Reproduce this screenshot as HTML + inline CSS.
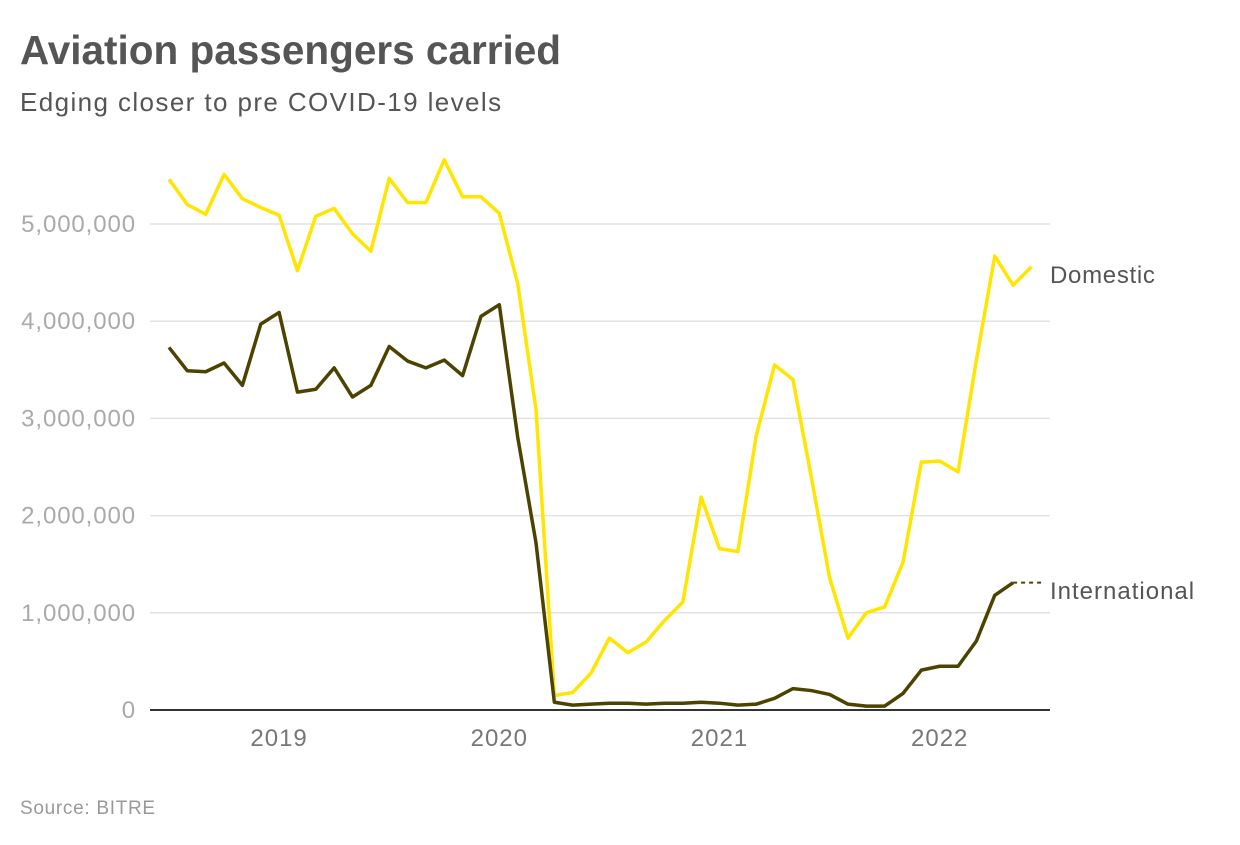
<!DOCTYPE html>
<html><head><meta charset="utf-8"><style>
body{margin:0;background:#fff;font-family:"Liberation Sans",sans-serif;}
svg text{font-family:"Liberation Sans",sans-serif;}
</style></head><body>
<svg width="1240" height="840">
<text x="20" y="64" font-size="40.5" font-weight="bold" fill="#555">Aviation passengers carried</text>
<text x="20" y="111" font-size="26" letter-spacing="1.4" fill="#555">Edging closer to pre COVID-19 levels</text>
<g id="grid"></g><g id="lines"></g>
<text x="20" y="814" font-size="19" letter-spacing="0.7" fill="#999">Source: BITRE</text>
</svg>
<script>
const yTicks=[0,1000000,2000000,3000000,4000000,5000000];
const yTickLabels=["0","1,000,000","2,000,000","3,000,000","4,000,000","5,000,000"];
const xTickLabels=["2019","2020","2021","2022"];
const domestic=[5.46,5.20,5.10,5.51,5.26,5.17,5.09,4.52,5.08,5.16,4.90,4.72,5.47,5.22,5.22,5.66,5.28,5.28,5.11,4.39,3.09,0.15,0.18,0.38,0.74,0.59,0.70,0.92,1.11,2.19,1.66,1.63,2.82,3.55,3.40,2.40,1.36,0.74,1.00,1.06,1.52,2.55,2.56,2.45,3.60,4.67,4.37,4.56];
const international=[3.73,3.49,3.48,3.57,3.34,3.97,4.09,3.27,3.30,3.52,3.22,3.34,3.74,3.59,3.52,3.60,3.44,4.05,4.17,2.81,1.72,0.08,0.05,0.06,0.07,0.07,0.06,0.07,0.07,0.08,0.07,0.05,0.06,0.12,0.22,0.20,0.16,0.06,0.04,0.04,0.17,0.41,0.45,0.45,0.71,1.18,1.31];
const NS="http://www.w3.org/2000/svg";
// month index 0 = Jul 2018
const xs=i=>169+i*18.35;
const ys=v=>710-v/1000000*97.2;
const grid=document.getElementById('grid'),lines=document.getElementById('lines');
function mk(t,a,p){const e=document.createElementNS(NS,t);for(const k in a)e.setAttribute(k,a[k]);p.appendChild(e);return e;}
yTicks.forEach((v,i)=>{
 if(i>0){const l=mk('line',{x1:150,x2:1050,y1:ys(v),y2:ys(v),stroke:'#e2e2e2','stroke-width':1.5},grid);
 
 }
 const t=mk('text',{x:136,y:ys(v)+8,'font-size':24,'letter-spacing':0.9,fill:'#aaa','text-anchor':'end'},grid);t.textContent=yTickLabels[i];
 
 
});
xTickLabels.forEach((s,i)=>{
 const t=mk('text',{x:xs(6+12*i),y:746,'font-size':24,'letter-spacing':1,fill:'#777','text-anchor':'middle'},grid);t.textContent=s;
 
 
});
const ax=mk('line',{x1:150,x2:1050,y1:710,y2:710,stroke:'#333','stroke-width':2},grid);


function path(arr){return arr.map((v,i)=>(i?'L':'M')+xs(i)+','+ys(v*1000000)).join('');}
const pd=mk('path',{d:path(domestic),fill:'none',stroke:'#ffe500','stroke-width':3.5,'stroke-linejoin':'round'},lines);


const pi=mk('path',{d:path(international),fill:'none',stroke:'#4d4300','stroke-width':3.5,'stroke-linejoin':'round'},lines);


const li=international.length-1;
const dl=mk('line',{x1:xs(li),x2:1042,y1:ys(international[li]*1e6),y2:ys(international[li]*1e6),stroke:'#4d4300','stroke-width':2,'stroke-dasharray':'4,4'},lines);


const t1=mk('text',{x:1050,y:283,'font-size':24,'letter-spacing':0.7,fill:'#555'},lines);t1.textContent='Domestic';


const t2=mk('text',{x:1050,y:599,'font-size':24,'letter-spacing':1,fill:'#555'},lines);t2.textContent='International';


</script>
</body></html>
